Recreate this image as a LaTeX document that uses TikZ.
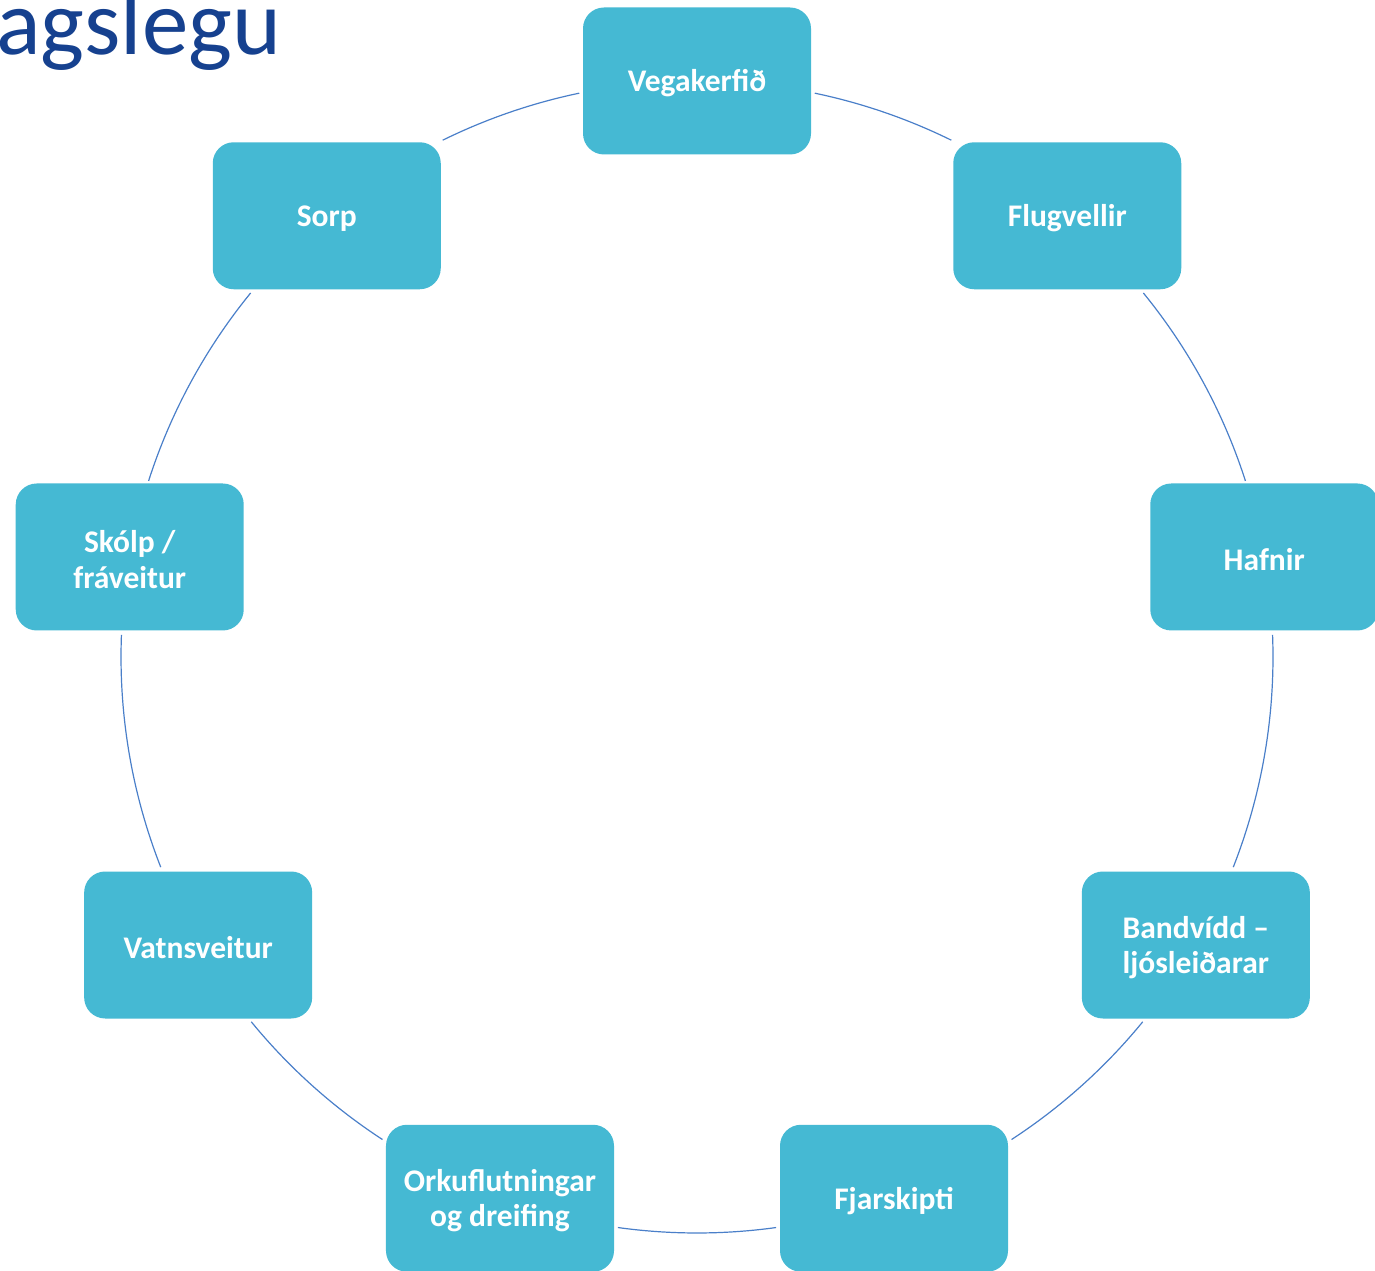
\documentclass[tikz,border=0pt]{standalone}
\usepackage{fontspec}
\setmainfont{Carlito}
\usetikzlibrary{calc}
\definecolor{boxblue}{HTML}{45B9D3}
\definecolor{ringblue}{HTML}{4A7FC9}
\definecolor{titleblue}{HTML}{16418F}
\begin{document}
\begin{tikzpicture}[x=1pt,y=1pt,
  item/.style={fill=boxblue, draw=none, rounded corners=21pt,
    minimum width=228pt, minimum height=147pt, inner sep=0pt},
  itemtext/.style={text=white, align=center, inner sep=0pt, yshift=-2.5pt,
    font=\fontsize{31.5}{35.5}\selectfont\bfseries},
  ring/.style={draw=ringblue, line width=1.2pt}]
\useasboundingbox (0,0) rectangle (1375,1270);
\coordinate (c) at (697,613);
% connectors (arcs of the ring)
\draw[ring] (c) ++(78.2:576) arc[start angle=78.2, end angle=63.8, radius=576];
\draw[ring] (c) ++(39.2:576) arc[start angle=39.2, end angle=17.8, radius=576];
\draw[ring] (c) ++(2.2:576) arc[start angle=2.2, end angle=-21.4, radius=576];
\draw[ring] (c) ++(-39.3:576) arc[start angle=-39.3, end angle=-56.9, radius=576];
\draw[ring] (c) ++(-82.1:576) arc[start angle=-82.1, end angle=-97.9, radius=576];
\draw[ring] (c) ++(-123.1:576) arc[start angle=-123.1, end angle=-140.7, radius=576];
\draw[ring] (c) ++(-158.6:576) arc[start angle=-158.6, end angle=-182.2, radius=576];
\draw[ring] (c) ++(162.2:576) arc[start angle=162.2, end angle=140.8, radius=576];
\draw[ring] (c) ++(116.2:576) arc[start angle=116.2, end angle=101.8, radius=576];
% nodes
\node[item, label={[itemtext]center:Vegakerfið}] (veg) at ($(c)+(90:576)$) {};
\node[item, label={[itemtext]center:Flugvellir}] (flug) at ($(c)+(50:576)$) {};
\node[item, label={[itemtext]center:Hafnir}] (hafn) at ($(c)+(10:576)$) {};
\node[item, label={[itemtext]center:Bandvídd –\\ljósleiðarar}] (band) at ($(c)+(-30:576)$) {};
\node[item, label={[itemtext]center:Fjarskipti}] (fjar) at ($(c)+(-70:576)$) {};
\node[item, label={[itemtext]center:Orkuflutningar\\og dreifing}] (orku) at ($(c)+(-110:576)$) {};
\node[item, label={[itemtext]center:Vatnsveitur}] (vatn) at ($(c)+(-150:576)$) {};
\node[item, label={[itemtext]center:Skólp /\\fráveitur}] (skolp) at ($(c)+(170:576)$) {};
\node[item, label={[itemtext]center:Sorp}] (sorp) at ($(c)+(130:576)$) {};
% title fragment
\node[anchor=base west, inner sep=0pt, text=titleblue,
  font=\fontsize{93}{100}\selectfont] (title) at (-4,1215) {agslegu};
\end{tikzpicture}
\end{document}
